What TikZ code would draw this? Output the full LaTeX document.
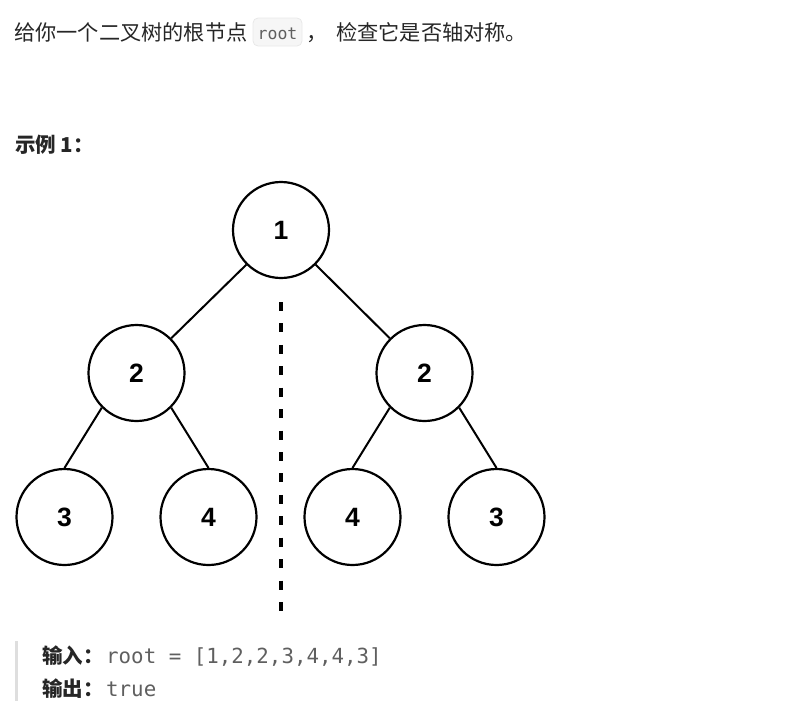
\documentclass[tikz,border=0pt]{standalone}
\usepackage{fontspec}
\setmainfont{Noto Sans CJK SC}
\newfontfamily\numfont{Liberation Sans}
\newfontfamily\codefont{DejaVu Sans Mono}
\definecolor{txt}{RGB}{38,38,38}
\definecolor{codegray}{RGB}{95,95,95}
\definecolor{codebg}{RGB}{246,246,246}
\definecolor{codeborder}{RGB}{232,232,232}
\definecolor{barcol}{RGB}{222,222,222}
\tikzset{
  tnode/.style={circle, draw=black, line width=2.2pt, minimum size=96pt, inner sep=0pt,
    font=\numfont\bfseries\fontsize{26.5}{26.5}\selectfont},
  edge/.style={draw=black, line width=2pt},
  axis/.style={draw=black, line width=3.6pt, dash pattern=on 9pt off 12.43pt},
  body/.style={inner sep=0pt, anchor=base west, text=txt, font=\fontsize{21.2}{24}\selectfont},
  boldbody/.style={body, font=\fontsize{20.5}{24}\selectfont\bfseries},
  code/.style={inner sep=0pt, anchor=base west, text=codegray, font=\codefont\fontsize{20.8}{24}\selectfont},
}
\begin{document}
\begin{tikzpicture}[x=1pt,y=-1pt]
\useasboundingbox (0,0) rectangle (791,707);
% header text
\node[body] (t1) at (14,40) {给你一个二叉树的根节点};
\fill[codebg, draw=codeborder, line width=0.8pt, rounded corners=5pt] (253,18) rectangle (302,46);
\node[inner sep=0pt, anchor=base, text=codegray, font=\codefont\fontsize{16.5}{18}\selectfont] (rt) at (277.5,39) {root};
\node[body] (t2) at (306,40) {，};
\node[body] (t3) at (336,40) {检查它是否轴对称。};
\node[boldbody] (ex) at (15,152) {示例 1：};
% tree
\node[tnode] (n1) at (281,230) {1};
\node[tnode] (n2l) at (136.5,373) {2};
\node[tnode] (n2r) at (424.5,373) {2};
\node[tnode] (n3a) at (64.5,517) {3};
\node[tnode] (n4a) at (208.5,517) {4};
\node[tnode] (n4b) at (352.5,517) {4};
\node[tnode] (n3b) at (496.5,517) {3};
\draw[edge] (n1.south west) -- (n2l.north east);
\draw[edge] (n1.south east) -- (n2r.north west);
\draw[edge] (n2l.south west) -- (n3a.north);
\draw[edge] (n2l.south east) -- (n4a.north);
\draw[edge] (n2r.south west) -- (n4b.north);
\draw[edge] (n2r.south east) -- (n3b.north);
\coordinate (axtop) at (281,302);
\coordinate (axbot) at (281,611);
\draw[axis] (axtop) -- (axbot);
% example block
\fill[barcol] (15,641) rectangle (18,701);
\node[boldbody] (in) at (42,663.5) {输入：};
\node[code] (inv) at (106,663.5) {root = [1,2,2,3,4,4,3]};
\node[boldbody] (out) at (42,696.5) {输出：};
\node[code] (outv) at (106,696.5) {true};
\end{tikzpicture}
\end{document}
